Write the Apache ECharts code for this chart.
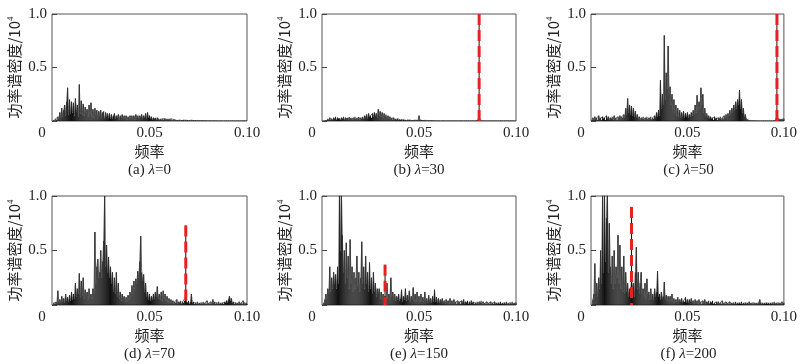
<!DOCTYPE html>
<html><head><meta charset="utf-8">
<script src="https://cdn.jsdelivr.net/npm/echarts@6/dist/echarts.min.js"></script>
<style>html,body{margin:0;padding:0;background:#fff}#c{width:800px;height:364px}</style>
</head><body><div id="c"></div>
<script>
// frequency step of the spectra (x = (i+1)*step)
const freqStep = 0.0005;
const xTicks = [0, 0.05, 0.10];
const yTicks = [0, 0.5, 1.0];
const panelLetters = ['(a)','(b)','(c)','(d)','(e)','(f)'];
const lambdas = ['0','30','50','70','150','200'];
const markerFreq = [null, 0.081, 0.0964, 0.0686, 0.0325, 0.021];
const markerTop = [null, 1.0, 1.0, 0.73, 0.37, 0.9];

const specA = [
0,0.01,0,0.02,0.01,0.04,0.02,0.08,0.03,0.12, 0.04,0.1,0.15,0.05,0.18,0.31,0.06,0.2,0.07,0.18,
0.08,0.17,0.05,0.21,0.09,0.15,0.04,0.34,0.07,0.19, 0.06,0.16,0.05,0.13,0.08,0.11,0.04,0.15,0.06,0.17,
0.04,0.11,0.03,0.12,0.06,0.1,0.02,0.09,0.05,0.1, 0.03,0.08,0.09,0.02,0.08,0.04,0.07,0.03,0.07,0.02,
0.06,0.02,0.05,0.07,0.02,0.05,0.03,0.06,0.01,0.05, 0.03,0.06,0.02,0.05,0.03,0.05,0.01,0.04,0.02,0.05,
0.03,0.05,0.02,0.05,0.01,0.06,0.03,0.05,0.02,0.05, 0.03,0.06,0.02,0.05,0.03,0.07,0.02,0.08,0.03,0.05,
0.02,0.04,0.01,0.03,0.02,0.03,0.01,0.03,0.02,0.01, 0.02,0.01,0.02,0.01,0.02,0.02,0.01,0.02,0.01,0.02,
0.01,0.02,0.005,0.01,0.015,0.005,0.01,0.005,0.01,0.005, 0.008,0.003,0.01,0.004,0.012,0.003,0.008,0.004,0.01,0.003,
0.006,0.002,0.008,0.003,0.01,0.002,0.006,0.003,0.005,0.002, 0.004,0.002,0.005,0.002,0.004,0.001,0.004,0.002,0.003,0.001,
0.003,0.001,0.004,0.001,0.003,0.002,0.003,0.001,0.002,0.001, 0.003,0.001,0.002,0.001,0.003,0.001,0.002,0.001,0.002,0.001,
0.002,0.001,0.003,0.001,0.002,0.001,0.002,0.001,0.003,0.001, 0.002,0.001,0.002,0.001,0.002,0.001,0.003,0.001,0.002,0.001
];
const specB = [
0,0,0,0.005,0.01,0.02,0.01,0.03,0.015,0.02, 0.01,0.03,0.02,0.04,0.01,0.03,0.02,0.025,0.01,0.03,
0.02,0.04,0.01,0.03,0.02,0.03,0.015,0.035,0.02,0.03, 0.01,0.03,0.02,0.04,0.015,0.03,0.02,0.035,0.01,0.03,
0.02,0.04,0.02,0.05,0.03,0.06,0.02,0.07,0.04,0.05, 0.03,0.07,0.04,0.08,0.05,0.07,0.03,0.11,0.05,0.09,
0.04,0.08,0.03,0.07,0.05,0.06,0.03,0.05,0.02,0.04, 0.02,0.03,0.015,0.03,0.01,0.02,0.01,0.02,0.008,0.015,
0.01,0.015,0.005,0.012,0.008,0.01,0.005,0.012,0.006,0.01, 0.005,0.008,0.004,0.01,0.005,0.008,0.004,0.01,0.006,0.05,
0.01,0.006,0.01,0.004,0.008,0.003,0.006,0.003,0.005,0.002, 0.004,0.002,0.004,0.002,0.003,0.002,0.003,0.001,0.003,0.001,
0.002,0.001,0.002,0.001,0.003,0.001,0.002,0.001,0.002,0.001, 0.002,0.001,0.002,0.001,0.002,0.001,0.002,0.001,0.002,0.001,
0.002,0.001,0.002,0.001,0.002,0.001,0.002,0.001,0.002,0.001, 0.002,0.001,0.002,0.001,0.002,0.001,0.002,0.001,0.002,0.01,
0.01,0.05,0.01,0.002,0.001,0.002,0.001,0.002,0.001,0.002, 0.001,0.002,0.001,0.002,0.001,0.002,0.001,0.002,0.001,0.002,
0.001,0.002,0.001,0.002,0.001,0.002,0.001,0.002,0.001,0.002, 0.001,0.002,0.001,0.002,0.001,0.002,0.001,0.002,0.001,0.002
];
const specC = [
0.01,0.03,0.01,0.04,0.02,0.03,0.01,0.05,0.02,0.03, 0.01,0.04,0.02,0.03,0.01,0.05,0.02,0.04,0.01,0.03,
0.02,0.04,0.01,0.05,0.02,0.03,0.01,0.04,0.02,0.05, 0.02,0.04,0.03,0.06,0.03,0.12,0.06,0.21,0.08,0.15,
0.06,0.14,0.05,0.12,0.04,0.09,0.03,0.06,0.02,0.04, 0.01,0.03,0.02,0.04,0.01,0.03,0.02,0.04,0.01,0.03,
0.02,0.04,0.01,0.03,0.02,0.05,0.03,0.08,0.04,0.1, 0.05,0.38,0.12,0.25,0.15,0.80,0.2,0.45,0.3,0.70,
0.25,0.32,0.15,0.25,0.1,0.2,0.08,0.15,0.05,0.12, 0.04,0.1,0.03,0.08,0.04,0.09,0.03,0.07,0.04,0.08,
0.03,0.06,0.04,0.08,0.05,0.1,0.06,0.15,0.08,0.24, 0.1,0.18,0.12,0.31,0.15,0.25,0.08,0.12,0.05,0.07,
0.03,0.05,0.02,0.04,0.02,0.03,0.01,0.04,0.02,0.03, 0.01,0.03,0.02,0.04,0.01,0.03,0.02,0.05,0.03,0.06,
0.04,0.07,0.05,0.1,0.06,0.12,0.08,0.15,0.1,0.18, 0.12,0.2,0.15,0.29,0.12,0.2,0.08,0.12,0.04,0.06,
0.02,0.01,0.01,0.005,0.004,0.003,0.003,0.002,0.002,0.002, 0.002,0.001,0.002,0.001,0.002,0.001,0.002,0.001,0.002,0.001,
0.002,0.001,0.002,0.001,0.002,0.001,0.002,0.001,0.003,0.002, 0.005,0.01,0.05,0.02,0.01,0.02,0.01,0.02,0.01,0.02
];
const specD = [
0,0.02,0.01,0.03,0.02,0.13,0.03,0.05,0.02,0.08, 0.03,0.06,0.02,0.1,0.04,0.07,0.03,0.09,0.04,0.12,
0.05,0.1,0.06,0.2,0.08,0.15,0.1,0.29,0.07,0.22, 0.09,0.25,0.06,0.14,0.08,0.12,0.05,0.15,0.07,0.1,
0.06,0.15,0.1,0.67,0.2,0.35,0.42,0.25,0.3,0.5, 0.25,0.4,0.59,1.0,0.35,0.55,0.3,0.44,0.25,0.35,
0.2,0.3,0.12,0.25,0.1,0.3,0.08,0.2,0.06,0.12, 0.04,0.1,0.05,0.08,0.03,0.07,0.04,0.09,0.05,0.12,
0.08,0.18,0.1,0.22,0.15,0.24,0.2,0.31,0.25,0.4, 0.63,0.3,0.22,0.28,0.12,0.2,0.08,0.12,0.05,0.1,
0.04,0.08,0.05,0.1,0.06,0.12,0.08,0.17,0.06,0.1, 0.05,0.12,0.04,0.13,0.06,0.1,0.04,0.08,0.03,0.06,
0.02,0.05,0.02,0.04,0.01,0.03,0.02,0.05,0.01,0.03, 0.02,0.04,0.01,0.03,0.02,0.04,0.07,0.03,0.02,0.04,
0.01,0.03,0.1,0.02,0.03,0.01,0.02,0.01,0.03,0.01, 0.02,0.01,0.02,0.01,0.03,0.01,0.02,0.01,0.04,0.01,
0.02,0.01,0.03,0.01,0.05,0.02,0.03,0.01,0.02,0.01, 0.03,0.01,0.02,0.01,0.02,0.01,0.03,0.02,0.04,0.02,
0.05,0.08,0.04,0.06,0.02,0.03,0.01,0.02,0.01,0.02, 0.01,0.03,0.01,0.02,0.01,0.04,0.02,0.01,0.02,0.01
];
const specE = [
0,0.02,0.05,0.1,0.06,0.15,0.1,0.35,0.12,0.25, 0.15,0.3,0.2,0.28,0.15,0.35,0.2,1.05,0.5,1.05,
0.64,0.3,0.5,0.2,0.57,0.25,0.45,0.15,0.6,0.2, 0.35,0.12,0.3,0.15,0.25,0.45,0.18,0.3,0.12,0.25,
0.58,0.2,0.35,0.15,0.45,0.2,0.3,0.12,0.39,0.15, 0.25,0.1,0.3,0.12,0.2,0.08,0.15,0.1,0.15,0.06,
0.12,0.05,0.1,0.06,0.08,0.04,0.2,0.06,0.1,0.05, 0.25,0.08,0.12,0.05,0.1,0.04,0.08,0.05,0.1,0.04,
0.06,0.14,0.03,0.08,0.05,0.15,0.04,0.09,0.05,0.13, 0.03,0.08,0.05,0.16,0.04,0.1,0.03,0.12,0.05,0.08,
0.03,0.1,0.04,0.07,0.03,0.12,0.04,0.06,0.02,0.09, 0.03,0.06,0.02,0.08,0.03,0.14,0.03,0.07,0.02,0.06,
0.02,0.05,0.03,0.06,0.02,0.04,0.01,0.05,0.02,0.04, 0.01,0.06,0.02,0.04,0.01,0.05,0.02,0.03,0.01,0.04,
0.02,0.03,0.01,0.04,0.02,0.05,0.01,0.03,0.02,0.04, 0.01,0.03,0.01,0.04,0.02,0.03,0.01,0.02,0.01,0.03,
0.01,0.03,0.02,0.04,0.01,0.03,0.01,0.02,0.01,0.03, 0.01,0.02,0.01,0.03,0.01,0.02,0.01,0.03,0.01,0.02,
0.01,0.02,0.01,0.03,0.01,0.02,0.01,0.02,0.01,0.03, 0.01,0.02,0.01,0.02,0.01,0.03,0.01,0.02,0.01,0.02
];
const specF = [
0,0.05,0.1,0.38,0.1,0.2,0.08,0.25,0.15,0.5, 0.2,1.05,0.3,1.05,0.4,0.8,1.05,0.3,0.75,0.35,
0.2,0.45,0.15,0.5,0.2,0.35,0.25,0.64,0.2,0.55, 0.15,0.35,0.12,0.45,0.1,0.3,0.12,0.2,0.08,0.15,
0.1,0.25,0.15,0.2,0.08,0.3,0.53,0.15,0.3,0.1, 0.2,0.3,0.1,0.15,0.08,0.2,0.06,0.24,0.1,0.12,
0.05,0.15,0.06,0.1,0.05,0.15,0.08,0.12,0.31,0.08, 0.1,0.05,0.12,0.06,0.08,0.21,0.05,0.09,0.04,0.08,
0.03,0.08,0.04,0.1,0.03,0.06,0.02,0.05,0.03,0.07, 0.02,0.05,0.03,0.06,0.02,0.04,0.03,0.07,0.02,0.05,
0.02,0.05,0.03,0.06,0.02,0.04,0.01,0.05,0.02,0.04, 0.01,0.05,0.02,0.03,0.01,0.04,0.02,0.05,0.01,0.03,
0.02,0.04,0.01,0.03,0.02,0.04,0.01,0.02,0.01,0.03, 0.01,0.03,0.01,0.02,0.01,0.04,0.01,0.02,0.01,0.03,
0.01,0.02,0.01,0.03,0.01,0.02,0.01,0.02,0.01,0.03, 0.01,0.02,0.01,0.02,0.01,0.03,0.01,0.02,0.01,0.02,
0.01,0.02,0.01,0.03,0.01,0.02,0.01,0.02,0.01,0.02, 0.01,0.02,0.01,0.02,0.05,0.02,0.01,0.02,0.01,0.02,
0.01,0.02,0.01,0.02,0.01,0.02,0.01,0.02,0.01,0.03, 0.01,0.02,0.01,0.02,0.01,0.02,0.01,0.03,0.01,0.02
];
const spectra = [specA, specB, specC, specD, specE, specF];

const SERIF = '"Liberation Serif","DejaVu Serif",serif';
const CJK = '"Noto Sans CJK SC","Noto Sans",sans-serif';
const grids = [
  {left:52, top:14, width:195, height:107},
  {left:322, top:14, width:194, height:107},
  {left:591, top:14, width:195, height:107},
  {left:52, top:196, width:195, height:109},
  {left:322, top:196, width:194, height:109},
  {left:591, top:196, width:195, height:109}
];

const option = {animation:false, backgroundColor:'#fff', grid:[], xAxis:[], yAxis:[], series:[], title:[]};
grids.forEach((g, k) => {
  option.grid.push(Object.assign({show:true, borderColor:'#555', borderWidth:1, backgroundColor:'transparent'}, g));
  option.xAxis.push({
    type:'value', gridIndex:k, min:xTicks[0], max:xTicks[2], interval:xTicks[1]-xTicks[0],
    axisLine:{show:false}, axisTick:{show:false}, splitLine:{show:false},
    axisLabel:{margin:5, color:'#222', fontFamily:SERIF, fontSize:15,
      formatter:v => v === 0 ? '{z|0}' : v.toFixed(2),
      rich:{z:{fontFamily:SERIF, fontSize:15, color:'#222', padding:[0,20,0,0]}}},
    name:'频率', nameLocation:'middle', nameGap:23,
    nameTextStyle:{fontFamily:CJK, fontSize:15, color:'#222'}
  });
  option.yAxis.push({
    type:'value', gridIndex:k, min:yTicks[0], max:yTicks[2], interval:yTicks[1]-yTicks[0],
    axisLine:{show:false}, splitLine:{show:false},
    axisTick:{show:true, inside:true, length:5, lineStyle:{color:'#444'}},
    axisLabel:{margin:5, color:'#222', fontFamily:SERIF, fontSize:15,
      formatter:v => v === 0 ? '' : v.toFixed(1)},
    name:'功率谱密度/10{s|4}', nameLocation:'middle', nameGap:30,
    nameTextStyle:{fontFamily:CJK, fontSize:15, color:'#222',
      rich:{s:{fontFamily:SERIF, fontSize:9, color:'#222', verticalAlign:'top', padding:[0,0,7,0]}}}
  });
  const pts = spectra[k].map((v, i) => [(i + 1) * freqStep, v]);
  // stems of the spectrum
  option.series.push({
    type:'bar', xAxisIndex:k, yAxisIndex:k, barWidth:1, clip:true,
    itemStyle:{color:'#111'}, z:2, data: pts
  });
  // connecting trace
  option.series.push({
    type:'line', xAxisIndex:k, yAxisIndex:k, symbol:'none', clip:true,
    lineStyle:{color:'#333', width:0.7}, z:2, data: pts
  });
  if (markerFreq[k] !== null) {
    const seg = [[markerFreq[k], markerTop[k]], [markerFreq[k], 0]];
    option.series.push({type:'line', xAxisIndex:k, yAxisIndex:k, symbol:'none', clip:true,
      lineStyle:{color:'#111', width:1}, z:3, data:seg});
    option.series.push({type:'line', xAxisIndex:k, yAxisIndex:k, symbol:'none', clip:true,
      lineStyle:{color:'#e8211e', width:3, type:[11,5]}, z:4, data:seg});
  }
  option.title.push({
    text: panelLetters[k] + ' {i|λ}=' + lambdas[k], padding:0,
    left: g.left + g.width / 2, top: g.top + g.height + 42, textAlign:'center',
    textStyle:{fontFamily:SERIF, fontSize:15, fontWeight:'normal', color:'#222',
      rich:{i:{fontFamily:SERIF, fontSize:15, fontStyle:'italic', color:'#222'}}}
  });
});
const chart = echarts.init(document.getElementById('c'), null, {renderer:'canvas'});
chart.setOption(option);
</script></body></html>
